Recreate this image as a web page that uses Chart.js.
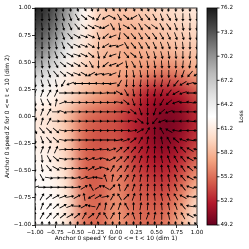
<!DOCTYPE html>
<html><head><meta charset="utf-8">
<script src="https://cdn.jsdelivr.net/npm/chart.js@4.4.1/dist/chart.umd.min.js"></script>
<style>html,body{margin:0;padding:0;background:#fff}canvas{display:block}</style>
</head><body>
<canvas id="c" width="249" height="249"></canvas>
<script>
// ---- data ----
const xTicks = [-1, -0.75, -0.5, -0.25, 0, 0.25, 0.5, 0.75, 1];
const yTicks = [-1, -0.75, -0.5, -0.25, 0, 0.25, 0.5, 0.75, 1];
const cbTicks = [49.2, 52.2, 55.2, 58.2, 61.2, 64.2, 67.2, 70.2, 73.2, 76.2];
const lossMin = 49.2, lossMax = 76.2;
const xLabel = 'Anchor 0 speed Y for 0 <= t < 10 (dim 1)';
const yLabel = 'Anchor 0 speed Z for 0 <= t < 10 (dim 2)';
const cbLabel = 'Loss';

// loss surface samples (rows: y from 1 to -1, cols: x from -1 to 1)
const heatX = [-1, -0.8, -0.6, -0.4, -0.2, 0, 0.2, 0.4, 0.6, 0.8, 1];
const heatY = [1, 0.8, 0.6, 0.4, 0.2, 0, -0.2, -0.4, -0.6, -0.8, -1];
const heatLoss = [
  [76, 74, 70, 62.5, 59.5, 59, 59, 59.5, 60, 60.5, 61],
  [74, 72, 67.5, 61.5, 59, 58, 58, 58.5, 59, 59.5, 60],
  [71.5, 69, 64, 60.5, 58.5, 58, 57.5, 58, 58, 58.5, 59],
  [67, 65, 61.5, 59.5, 58, 57.5, 57, 56, 55.5, 56, 57.5],
  [63, 62, 60.5, 58.5, 57, 56, 54, 52, 51.5, 52, 54],
  [61, 60.5, 58.5, 55.5, 54.5, 54, 52.5, 51, 50, 50.5, 52.5],
  [61.5, 61, 59, 55, 54, 54, 52.5, 51, 50, 51, 53],
  [62, 61.5, 59.5, 55, 54.5, 55.5, 53.5, 52, 51.5, 52.5, 55],
  [62.5, 62, 60, 55, 54.5, 56, 54.5, 53.5, 53, 54.5, 57.5],
  [62.5, 62.5, 60.5, 55.5, 55, 56.5, 55, 54.5, 54.5, 56.5, 60],
  [62.5, 62.5, 60.5, 55.5, 55, 57, 55.5, 55, 55.5, 58, 61]
];

// quiver grid (descent direction, degrees: 0 = +x, 90 = +y)
const arrowX = [-1, -0.913, -0.826, -0.739, -0.652, -0.565, -0.478, -0.391, -0.304, -0.217, -0.130, -0.043,
                0.043, 0.130, 0.217, 0.304, 0.391, 0.478, 0.565, 0.652, 0.739, 0.826, 0.913, 1];
const arrowY = [1, 0.913, 0.826, 0.739, 0.652, 0.565, 0.478, 0.391, 0.304, 0.217, 0.130, 0.043,
                -0.043, -0.130, -0.217, -0.304, -0.391, -0.478, -0.565, -0.652, -0.739, -0.826, -0.913, -1];
const arrowAngle = [
  [-90,-95,-90,-85,-90,-80,-75,-60,-70,-100,-75,-60,-80,-110,-70,-60,-70,-75,-80,-100,-90,-95,-90,-90],
  [-95,-90,-85,-80,-75,-70,-60,-40,-30,-120,-150,-30,-60,-40,-150,-60,-50,-60,-70,-60,-75,-90,-85,-90],
  [-90,-85,-85,-80,-75,-65,-50,-35,-30,-20,-150,-60,-80,-30,-45,-60,-40,-35,-60,-55,-70,-80,-90,-95],
  [-95,-90,-85,-80,-70,-50,-30,-20,-25,-70,-140,-160,-100,-45,-50,-60,-50,-55,-60,-65,-70,-75,-85,-95],
  [-95,-90,-85,-80,-70,-45,-25,-20,-30,-90,-150,-170,-160,-60,-50,-60,-60,-65,-70,-70,-80,-85,-90,-95],
  [-90,-90,-85,-70,-50,-30,-20,-25,-40,-80,-120,-160,-100,-50,-40,-70,-70,-75,-75,-80,-85,-90,-95,-100],
  [-90,-85,-80,-60,-40,-30,-30,-35,-60,-90,-140,-160,-150,-80,-60,-75,-80,-80,-85,-85,-90,-95,-100,-110],
  [-85,-80,-70,-50,-40,-30,-20,-30,-150,-170,-170,-160,-100,-90,-80,-80,-85,-85,-90,-90,-100,-110,-130,-150],
  [-80,-75,-70,-80,-120,-160,180,180,180,175,180,-170,-120,-95,-90,-95,-90,-95,-100,-110,-130,-150,-165,180],
  [-110,70,60,65,0,0,0,0,0,0,5,0,-30,-60,-80,-90,-95,-100,-110,-130,-150,-160,180,180],
  [-80,-70,-60,80,20,0,0,0,0,0,0,0,-10,-40,-70,-85,-90,-100,-120,-140,-160,180,170,180],
  [80,70,60,0,-20,0,0,0,0,0,0,0,0,-10,-40,-70,-90,-110,-140,-160,180,180,180,180],
  [70,75,60,0,0,0,0,0,0,0,0,0,0,0,-10,-40,-90,-130,-160,180,180,180,175,180],
  [-60,-50,-45,-40,-10,0,0,0,0,0,0,0,0,0,10,30,60,90,120,150,170,180,180,180],
  [-80,-70,-50,-40,-10,0,0,0,0,0,0,0,10,20,40,60,80,90,100,120,140,160,170,180],
  [80,70,70,65,5,0,0,0,0,10,5,20,40,45,50,60,75,85,95,105,120,135,150,170],
  [-90,-85,-60,-40,-10,0,0,10,20,10,-20,30,40,50,60,70,80,90,100,110,120,130,150,160],
  [-90,-80,-50,-30,-10,0,0,5,30,20,-20,60,50,60,65,75,80,90,95,105,115,125,140,150],
  [-80,-60,-10,0,0,0,10,20,10,170,110,80,50,60,70,80,85,90,95,100,110,130,150,170],
  [-160,0,0,0,0,0,10,30,120,30,150,45,100,60,70,80,85,90,95,100,110,130,160,180],
  [90,60,40,30,20,10,30,100,-150,30,10,60,120,45,70,85,90,95,100,110,120,150,170,180],
  [100,70,50,40,30,20,0,30,170,60,80,60,70,120,90,80,85,90,95,100,110,130,170,180],
  [90,60,50,45,40,30,40,60,40,60,120,60,90,45,110,90,70,80,90,100,110,120,150,170],
  [90,90,85,90,95,90,80,90,90,100,90,85,90,95,90,90,85,90,95,90,100,110,120,140]
];

// ---- colormap (RdGy) ----
const rdgy = ['#67001f','#b2182b','#d6604d','#f4a582','#fddbc7','#ffffff','#e0e0e0','#bababa','#878787','#4d4d4d','#1a1a1a'];
function hexRgb(h){return [parseInt(h.slice(1,3),16),parseInt(h.slice(3,5),16),parseInt(h.slice(5,7),16)];}
const rdgyRgb = rdgy.map(hexRgb);
function cmap(v){
  let t = (v - lossMin) / (lossMax - lossMin);
  t = Math.max(0, Math.min(1, t)) * (rdgyRgb.length - 1);
  const i = Math.min(rdgyRgb.length - 2, Math.floor(t)), f = t - i;
  const a = rdgyRgb[i], b = rdgyRgb[i+1];
  return [0,1,2].map(k => Math.round(a[k] + (b[k]-a[k]) * f));
}

const arrowPoints = [];
arrowY.forEach((yv, j) => arrowX.forEach((xv, i) => arrowPoints.push({x: xv, y: yv, a: arrowAngle[j][i]})));

function fmt(v){ return (v < 0 ? '\u2212' : '') + Math.abs(v).toFixed(2); }

const FONT = "'DejaVu Sans', sans-serif";

function drawArrow(ctx, x, y, deg){
  const L = 8.2, hl = 2.6, hw = 1.6, sw = 0.42;
  const r = -deg * Math.PI / 180;
  ctx.save();
  ctx.translate(x, y); ctx.rotate(r);
  const tail = -L/2, tip = L/2, base = tip - hl;
  ctx.beginPath();
  ctx.moveTo(tail, -sw); ctx.lineTo(base, -sw); ctx.lineTo(base, -hw);
  ctx.lineTo(tip, 0); ctx.lineTo(base, hw); ctx.lineTo(base, sw); ctx.lineTo(tail, sw);
  ctx.closePath(); ctx.fill();
  ctx.restore();
}

const heatPlugin = {
  id: 'heat',
  beforeDatasetsDraw(chart){
    const {ctx, chartArea: ca, scales: {x: xs, y: ys}} = chart;
    const nc = heatX.length, nr = heatY.length;
    const off = document.createElement('canvas');
    off.width = nc; off.height = nr;
    const og = off.getContext('2d');
    const img = og.createImageData(nc, nr);
    for (let r = 0; r < nr; r++) for (let c = 0; c < nc; c++) {
      const col = cmap(heatLoss[r][c]); const k = (r*nc + c)*4;
      img.data[k] = col[0]; img.data[k+1] = col[1]; img.data[k+2] = col[2]; img.data[k+3] = 255;
    }
    og.putImageData(img, 0, 0);
    const hx = (heatX[1]-heatX[0])/2, hy = (heatY[0]-heatY[1])/2;
    const x0 = xs.getPixelForValue(heatX[0]-hx), x1 = xs.getPixelForValue(heatX[nc-1]+hx);
    const y0 = ys.getPixelForValue(heatY[0]+hy), y1 = ys.getPixelForValue(heatY[nr-1]-hy);
    ctx.save();
    ctx.beginPath(); ctx.rect(ca.left, ca.top, ca.right-ca.left, ca.bottom-ca.top); ctx.clip();
    ctx.imageSmoothingEnabled = true; ctx.imageSmoothingQuality = 'high';
    ctx.drawImage(off, x0, y0, x1-x0, y1-y0);
    ctx.restore();
  },
  afterDatasetsDraw(chart){
    const {ctx, chartArea: ca} = chart;
    const meta = chart.getDatasetMeta(0);
    ctx.save();
    ctx.beginPath(); ctx.rect(ca.left, ca.top, ca.right-ca.left, ca.bottom-ca.top); ctx.clip();
    ctx.fillStyle = '#000';
    meta.data.forEach((el, k) => drawArrow(ctx, el.x, el.y, arrowPoints[k].a));
    ctx.restore();
    ctx.save();
    ctx.strokeStyle = '#000'; ctx.lineWidth = 0.8;
    ctx.strokeRect(ca.left, ca.top, ca.right-ca.left, ca.bottom-ca.top);
    ctx.restore();
  },
  afterDraw(chart){
    const {ctx} = chart;
    const cb = chart.scales.cb;
    const bx = cb.left + 10, bw = 10;
    const yt = cb.getPixelForValue(lossMax), yb = cb.getPixelForValue(lossMin);
    const grad = ctx.createLinearGradient(0, yb, 0, yt);
    rdgy.forEach((c, i) => grad.addColorStop(i/(rdgy.length-1), c));
    ctx.save();
    ctx.fillStyle = grad;
    ctx.fillRect(bx, yt, bw, yb-yt);
    ctx.strokeStyle = '#000'; ctx.lineWidth = 0.8;
    ctx.strokeRect(bx, yt, bw, yb-yt);
    cbTicks.forEach(v => {
      const p = cb.getPixelForValue(v);
      ctx.beginPath(); ctx.moveTo(bx+bw, p); ctx.lineTo(bx+bw+2.5, p); ctx.stroke();
    });
    ctx.fillStyle = '#000';
    ctx.font = "5.8px " + FONT;
    ctx.translate(cb.right - 8, (yt+yb)/2);
    ctx.rotate(-Math.PI/2);
    ctx.textAlign = 'center'; ctx.textBaseline = 'middle';
    ctx.fillText(cbLabel, 0, 0);
    ctx.restore();
  }
};

const tickFont = {family: FONT, size: 5.6};
const labelFont = {family: FONT, size: 5.9};

new Chart(document.getElementById('c'), {
  type: 'scatter',
  data: {datasets: [{
    data: arrowPoints,
    pointRadius: 0,
    pointHoverRadius: 0,
    clip: 0,
    xAxisID: 'x', yAxisID: 'y'
  }]},
  options: {
    responsive: false, animation: false, devicePixelRatio: 1,
    layout: {padding: {top: 8, left: 0, right: 0, bottom: 0}},
    plugins: {legend: {display: false}, tooltip: {enabled: false}},
    events: [],
    scales: {
      x: {
        type: 'linear', position: 'bottom', min: -1, max: 1,
        afterBuildTicks: s => { s.ticks = xTicks.map(v => ({value: v})); },
        afterFit: s => { s.height = 24; },
        grid: {drawOnChartArea: false, drawTicks: true, tickLength: 3, tickColor: '#000', tickWidth: 0.8},
        border: {display: false},
        ticks: {font: tickFont, color: '#000', padding: 1, maxRotation: 0, autoSkip: false, callback: v => fmt(v)},
        title: {display: true, text: xLabel, font: labelFont, color: '#000', padding: {top: 0, bottom: 6.5}}
      },
      y: {
        type: 'linear', position: 'left', min: -1, max: 1,
        afterBuildTicks: s => { s.ticks = yTicks.map(v => ({value: v})); },
        afterFit: s => { s.width = 35; },
        grid: {drawOnChartArea: false, drawTicks: true, tickLength: 3, tickColor: '#000', tickWidth: 0.8},
        border: {display: false},
        ticks: {font: tickFont, color: '#000', padding: 1, autoSkip: false, callback: v => fmt(v)},
        title: {display: true, text: yLabel, font: labelFont, color: '#000', padding: {top: 4, bottom: 0}}
      },
      cb: {
        type: 'linear', position: 'right', min: lossMin, max: lossMax,
        afterBuildTicks: s => { s.ticks = cbTicks.map(v => ({value: v})); },
        afterFit: s => { s.width = 52; },
        grid: {drawOnChartArea: false, drawTicks: true, tickLength: 20, color: 'rgba(0,0,0,0)'},
        border: {display: false},
        ticks: {font: tickFont, color: '#000', padding: 3.5, autoSkip: false, callback: v => v.toFixed(1)}
      }
    }
  },
  plugins: [heatPlugin]
});
</script>
</body></html>
